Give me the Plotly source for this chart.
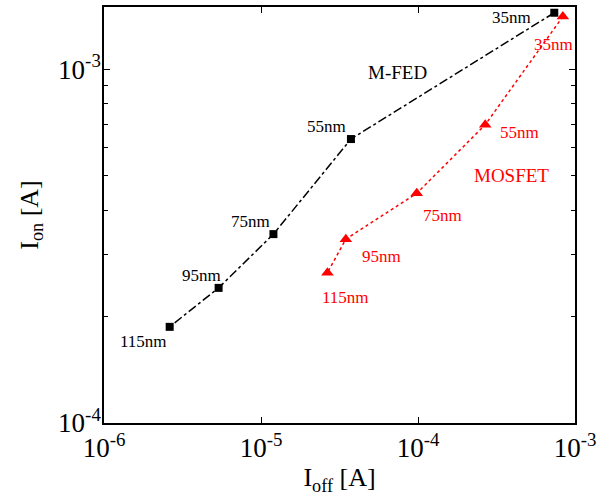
import math
import plotly.graph_objects as go

# Data
sizes = ["35nm", "55nm", "75nm", "95nm", "115nm"]
mfed_ioff = [7.38e-4, 3.74e-5, 1.20e-5, 5.37e-6, 2.62e-6]
mfed_ion = [1.445e-3, 6.35e-4, 3.42e-4, 2.41e-4, 1.87e-4]
mos_ioff = [8.37e-4, 2.68e-4, 9.82e-5, 3.47e-5, 2.65e-5]
mos_ion = [1.41e-3, 6.97e-4, 4.46e-4, 3.31e-4, 2.66e-4]

x_ticks = [1e-6, 1e-5, 1e-4, 1e-3]
x_ticktext = ["10<sup>-6</sup>", "10<sup>-5</sup>", "10<sup>-4</sup>", "10<sup>-3</sup>"]
y_ticks = [1e-4, 1e-3]
y_ticktext = ["10<sup>-4</sup>", "10<sup>-3</sup>"]
y_minor = [2e-4, 3e-4, 4e-4, 5e-4, 6e-4, 7e-4, 8e-4, 9e-4]

FONT = "Liberation Serif, Times New Roman, serif"

fig = go.Figure()
fig.add_trace(go.Scatter(
    x=mfed_ioff, y=mfed_ion, mode="lines+markers", name="M-FED",
    line=dict(color="black", width=1.5, dash="dashdot"),
    marker=dict(symbol="square", size=8, color="black"),
))
fig.add_trace(go.Scatter(
    x=mos_ioff, y=mos_ion, mode="lines+markers", name="MOSFET",
    line=dict(color="red", width=1.5, dash="dot"),
    marker=dict(symbol="triangle-up", size=11, color="red"),
))

# label offsets (pixels) relative to points
black_off = [(-21, -5, "right"), (-3, 13, "right"), (-1, 13, "right"), (4, 12, "right"), (-1, -15, "right")]
red_off = [(-9, -28, "center"), (13, -8, "left"), (4, -22, "left"), (14, -17, "left"), (18, -25, "center")]

annotations = []
for s, xv, yv, (dx, dy, anc) in zip(sizes, mfed_ioff, mfed_ion, black_off):
    annotations.append(dict(x=math.log10(xv), y=math.log10(yv), xref="x", yref="y",
                            text=s, showarrow=False, xanchor=anc, yanchor="middle",
                            xshift=dx, yshift=dy,
                            font=dict(family=FONT, size=17, color="black")))
for s, xv, yv, (dx, dy, anc) in zip(sizes, mos_ioff, mos_ion, red_off):
    annotations.append(dict(x=math.log10(xv), y=math.log10(yv), xref="x", yref="y",
                            text=s, showarrow=False, xanchor=anc, yanchor="middle",
                            xshift=dx, yshift=dy,
                            font=dict(family=FONT, size=17, color="red")))
annotations.append(dict(x=0.624, y=0.842, xref="paper", yref="paper", text="M-FED",
                        showarrow=False, xanchor="center", yanchor="middle",
                        font=dict(family=FONT, size=19, color="black")))
annotations.append(dict(x=0.866, y=0.595, xref="paper", yref="paper", text="MOSFET",
                        showarrow=False, xanchor="center", yanchor="middle",
                        font=dict(family=FONT, size=19, color="red")))

fig.update_layout(
    width=609, height=501,
    margin=dict(l=104, r=34, t=5, b=78),
    paper_bgcolor="white", plot_bgcolor="white",
    showlegend=False,
    font=dict(family=FONT, color="black"),
    annotations=annotations,
    xaxis=dict(
        type="log", range=[-6, -3],
        tickvals=x_ticks, ticktext=x_ticktext,
        ticks="inside", ticklen=6, tickcolor="black", tickwidth=1,
        showline=True, linecolor="black", linewidth=1.5, mirror="ticks",
        showgrid=False, zeroline=False,
        tickfont=dict(family=FONT, size=27, color="black"),
        title=dict(text="I<sub>off</sub> [A]", font=dict(family=FONT, size=26, color="black"), standoff=6),
    ),
    yaxis=dict(
        type="log", range=[-4, math.log10(1.5e-3)],
        tickvals=y_ticks, ticktext=y_ticktext,
        ticks="inside", ticklen=6, tickcolor="black", tickwidth=1,
        minor=dict(tickvals=y_minor, ticks="inside", ticklen=4, tickcolor="black"),
        showline=True, linecolor="black", linewidth=1.5, mirror="ticks",
        showgrid=False, zeroline=False,
        ticklabelstandoff=-4,
        tickfont=dict(family=FONT, size=27, color="black"),
        title=dict(text="I<sub>on</sub> [A]", font=dict(family=FONT, size=26, color="black"), standoff=12),
    ),
)

fig.write_html("out.html")
